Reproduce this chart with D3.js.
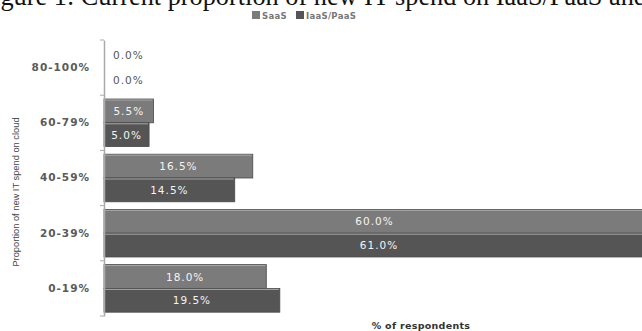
<!DOCTYPE html>
<html><head><meta charset="utf-8">
<script src="https://cdn.jsdelivr.net/npm/d3@7"></script>
<style>body{margin:0;background:#fff}svg{display:block}</style>
</head><body>
<script>
const categories = ["80-100%","60-79%","40-59%","20-39%","0-19%"];
const seriesNames = ["SaaS","IaaS/PaaS"];
const saas = [0.0, 5.5, 16.5, 60.0, 18.0];
const iaas = [0.0, 5.0, 14.5, 61.0, 19.5];
const colors = ["#7b7b7b","#555555"];

const W=642,H=331;
const svg=d3.select("body").append("svg").attr("width",W).attr("height",H);

// title (clipped at the top, as in the source image)
svg.append("text").attr("x",-21.5).attr("y",5)
  .attr("font-family","Liberation Serif, Times New Roman, serif").attr("font-size",26.3).attr("fill","#111")
  .text("Figure 1: Current proportion of new IT spend on IaaS/PaaS and SaaS");

const x=d3.scaleLinear().domain([0,60]).range([104,645]);
const y=d3.scaleBand().domain(categories).range([40,316]).paddingInner(0).paddingOuter(0);
const ys=d3.scaleBand().domain(seriesNames).range([0,y.bandwidth()]).paddingOuter(0.16).paddingInner(0);

const data=categories.map((c,i)=>({cat:c,vals:[saas[i],iaas[i]]}));
const g=svg.append("g");
data.forEach(d=>{
  d.vals.forEach((v,j)=>{
    const yy=y(d.cat)+ys(seriesNames[j]);
    if(v>0){
      g.append("rect").attr("x",x(0)).attr("y",yy).attr("width",x(v)-x(0)).attr("height",ys.bandwidth())
        .attr("fill",colors[j]).attr("stroke","#4a4a4a").attr("stroke-width",0.8);
      g.append("line").attr("x1",x(0)+1).attr("x2",x(v)-1).attr("y1",yy+1).attr("y2",yy+1)
        .attr("stroke","#a8a8a8").attr("stroke-width",1);
      g.append("text").attr("x",(x(0)+x(v))/2).attr("y",yy+ys.bandwidth()/2+4)
        .attr("text-anchor","middle").attr("font-family","DejaVu Sans, sans-serif").attr("font-size",10.5)
        .attr("letter-spacing",1).attr("fill","#f4f4f4").text(v.toFixed(1)+"%");
    } else {
      g.append("text").attr("x",x(0)+9).attr("y",yy+ys.bandwidth()/2+4+(j===0?-1:1))
        .attr("font-family","DejaVu Sans, sans-serif").attr("font-size",10.5)
        .attr("letter-spacing",1).attr("fill","#555").text(v.toFixed(1)+"%");
    }
  });
});

// axis
const axis=d3.axisLeft(y).tickSize(0).tickPadding(14);
const ag=svg.append("g").attr("transform",`translate(${x(0)},0)`).call(axis);
ag.select(".domain").attr("stroke","#aaa").attr("stroke-width",1.5);
ag.selectAll("text").attr("font-family","DejaVu Sans, sans-serif").attr("font-size",10.5)
  .attr("font-weight","bold").attr("letter-spacing",1).attr("fill","#5a5a5a");
const bounds=categories.map(c=>y(c)).concat([y.range()[1]]);
svg.selectAll(".bt").data(bounds).enter().append("line")
  .attr("x1",x(0)-4).attr("x2",x(0)).attr("y1",d=>d).attr("y2",d=>d).attr("stroke","#aaa");

// legend
const lg=svg.append("g");
const lx=[252,296];
seriesNames.forEach((n,i)=>{
  lg.append("rect").attr("x",lx[i]).attr("y",11).attr("width",8).attr("height",8).attr("fill",colors[i]);
  lg.append("text").attr("x",lx[i]+10).attr("y",19).attr("font-family","DejaVu Sans, sans-serif")
    .attr("font-size",8.5).attr("font-weight","bold").attr("letter-spacing",0.3).attr("fill","#777").text(n);
});

// axis titles
svg.append("text").attr("transform","translate(19,192) rotate(-90)").attr("text-anchor","middle")
  .attr("font-family","Liberation Sans, Arial, sans-serif").attr("font-size",9.3).attr("fill","#444")
  .text("Proportion of new IT spend on cloud");
svg.append("text").attr("x",421).attr("y",329).attr("text-anchor","middle")
  .attr("font-family","DejaVu Sans, sans-serif").attr("font-size",9.5).attr("font-weight","bold")
  .attr("letter-spacing",0.3).attr("fill","#333").text("% of respondents");
</script>
</body></html>
